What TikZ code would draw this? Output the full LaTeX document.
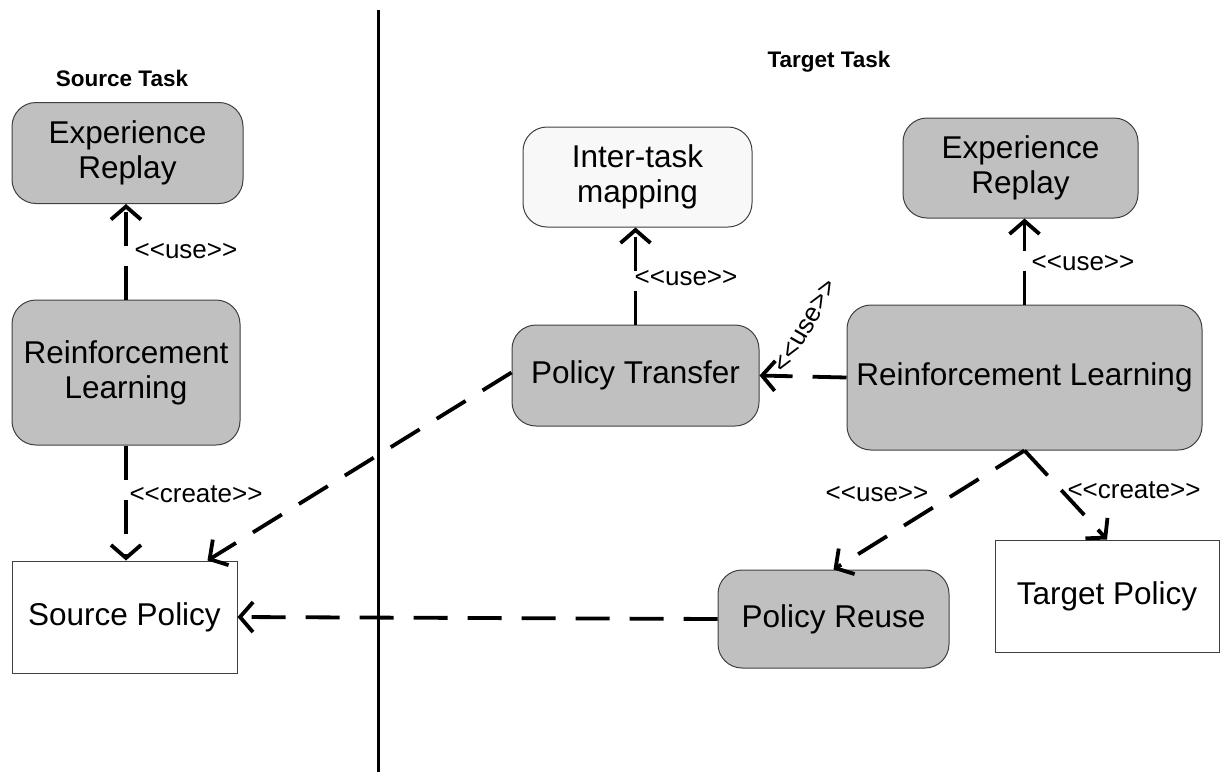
\documentclass[tikz,border=0pt]{standalone}
\usepackage{fontspec}
\setmainfont{Liberation Sans}
\usetikzlibrary{arrows.meta,calc}
\definecolor{boxgray}{HTML}{C0C0C0}
\definecolor{boxlight}{HTML}{F8F8F8}
\definecolor{edge}{HTML}{404040}
\begin{document}
\begin{tikzpicture}[x=1pt,y=-1pt,
  rbox/.style={draw=edge,line width=1pt,rounded corners=24pt,fill=boxgray,align=center,inner sep=0pt,
    font=\fontsize{31.5}{35}\selectfont},
  sbox/.style={draw=edge,line width=1pt,fill=white,align=center,inner sep=0pt,
    font=\fontsize{31.5}{35}\selectfont},
  conn/.style={line width=3.8pt,dash pattern=on 34pt off 20pt,
    -{Straight Barb[length=13pt,width=30pt,line width=3.8pt]}},
  lbl/.style={font=\fontsize{26}{29}\selectfont,inner sep=0pt},
  ttl/.style={font=\fontsize{22.5}{26}\selectfont\bfseries,inner sep=0pt}]
\useasboundingbox (0,0) rectangle (1220,772);
\draw[line width=3pt] (378,10) -- (378,772);
\node[ttl] (st) at (122,78) {Source Task};
\node[ttl] (tt) at (829,62) {Target Task};
% left side
\node[rbox,minimum width=231pt,minimum height=101pt] (lER) at (127.5,153) {Experience\\Replay};
\node[rbox,minimum width=228pt,minimum height=145pt] (lRL) at (126,372.5) {Reinforcement\\Learning};
\node[sbox,minimum width=225pt,minimum height=112pt] (SP) at (124.5,617) {Source Policy};
% right side
\node[rbox,fill=boxlight,minimum width=229pt,minimum height=100pt] (ITM) at (637.5,177) {Inter-task\\mapping};
\node[rbox,minimum width=247pt,minimum height=101pt] (PT) at (635.5,375.5) {Policy Transfer};
\node[rbox,minimum width=235pt,minimum height=100pt] (rER) at (1020.5,168) {Experience\\Replay};
\node[rbox,minimum width=355pt,minimum height=145pt] (rRL) at (1024.5,377.5) {Reinforcement Learning};
\node[rbox,minimum width=231pt,minimum height=98pt] (PR) at (833.5,619) {Policy Reuse};
\node[sbox,minimum width=224pt,minimum height=112pt] (TP) at (1107,596) {Target Policy};
% connectors
\draw[conn] (lRL.north) -- (lRL.north |- lER.south);
\node[lbl] (l1) at (186,251) {<{}<use>{}>};
\draw[conn] (lRL.south) -- (lRL.south |- SP.north);
\node[lbl] (l2) at (196,494) {<{}<create>{}>};
\draw[conn] (PT.north) -- (PT.north |- ITM.south);
\node[lbl] (l3) at (686,278) {<{}<use>{}>};
\draw[conn] (rRL.north) -- (rRL.north |- rER.south);
\node[lbl] (l4) at (1083,263) {<{}<use>{}>};
\draw[conn] (rRL.west) -- (PT.east);
\node[lbl,rotate=60] (l5) at (806,326) {<{}<use>{}>};
\draw[conn] (rRL.south) -- (PR.north);
\node[lbl] (l6) at (877,494) {<{}<use>{}>};
\draw[conn] (rRL.south) -- (TP.north);
\node[lbl] (l7) at (1134,490) {<{}<create>{}>};
\draw[conn] ($(PT.west)+(0,-3)$) -- ($(SP.north east)+(-30,0)$);
\draw[conn] (PR.west) -- (SP.east);
\end{tikzpicture}
\end{document}
